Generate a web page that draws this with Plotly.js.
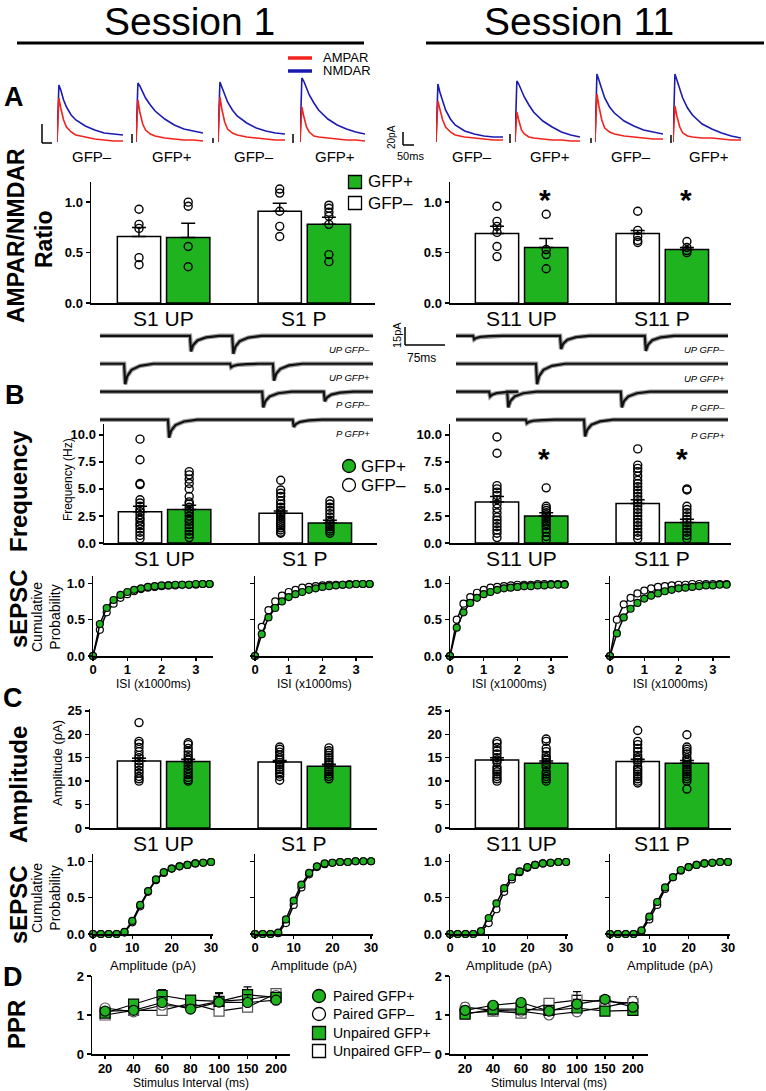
<!DOCTYPE html>
<html>
<head>
<meta charset="utf-8">
<script src="https://cdn.plot.ly/plotly-3.0.1.min.js"></script>
<style>body{margin:0;background:#fff}</style>
</head>
<body>
<div id="fig" style="width:766px;height:1091px"></div>
<script>
// ---------- data ----------

// Panel A: example evoked EPSCs (pA above baseline), sampled at traceT (ms)
const traceT = [0, 2, 4, 7, 10, 15, 20, 30, 40, 50, 60, 70];
const traceLabels = ['GFP\u2013', 'GFP+', 'GFP\u2013', 'GFP+'];
const nmdaS1 = [
  [0, 57, 52, 42, 35, 27, 22, 16, 12, 9, 8, 7],
  [0, 59, 56, 50, 44, 37, 31, 23, 17, 13, 11, 9],
  [0, 60, 55, 47, 40, 32, 26, 19, 14, 11, 9, 8],
  [0, 64, 61, 54, 47, 39, 32, 23, 17, 13, 10, 8]
];
const ampaS1 = [
  [0, 44, 34, 22, 15, 10, 7, 5, 3, 2, 1, 1],
  [0, 42, 30, 18, 12, 8, 6, 4, 3, 2, 2, 1],
  [0, 45, 33, 20, 13, 9, 7, 5, 4, 3, 2, 2],
  [0, 35, 26, 15, 10, 6, 5, 4, 3, 2, 2, 1]
];
const nmdaS11 = [
  [0, 58, 50, 40, 32, 23, 17, 11, 8, 6, 5, 5],
  [0, 61, 58, 52, 45, 37, 30, 21, 15, 10, 7, 5],
  [0, 68, 62, 52, 44, 35, 29, 21, 16, 12, 10, 8],
  [0, 68, 62, 52, 44, 34, 27, 18, 13, 9, 6, 4]
];
const ampaS11 = [
  [0, 41, 33, 22, 15, 10, 7, 5, 4, 3, 2, 2],
  [0, 30, 22, 12, 8, 5, 4, 3, 2, 2, 1, 1],
  [0, 48, 36, 22, 14, 10, 8, 6, 5, 4, 3, 3],
  [0, 36, 26, 15, 9, 6, 5, 4, 4, 3, 2, 2]
];

// AMPAR/NMDAR ratio (order: UP GFP-, UP GFP+, P GFP-, P GFP+)
const ratioS1Mean = [0.66, 0.65, 0.91, 0.78];
const ratioS1Sem = [0.09, 0.14, 0.08, 0.07];
const ratioS1Pts = [
  [0.93, 0.78, 0.74, 0.45, 0.38],
  [1.0, 0.96, 0.56, 0.36],
  [1.13, 1.09, 0.91, 0.76, 0.66],
  [0.97, 0.94, 0.9, 0.86, 0.78, 0.48, 0.41]
];
const ratioS11Mean = [0.69, 0.55, 0.69, 0.53];
const ratioS11Sem = [0.07, 0.09, 0.03, 0.02];
const ratioS11Pts = [
  [0.96, 0.81, 0.76, 0.7, 0.56, 0.46],
  [0.88, 0.53, 0.48, 0.34],
  [0.91, 0.72, 0.66, 0.62, 0.6],
  [0.61, 0.55, 0.52, 0.5]
];

// Panel B: spontaneous EPSC sweeps, events as [time ms, amplitude pA]
const sepscLabels = ['UP GFP\u2013', 'UP GFP+', 'P GFP\u2013', 'P GFP+'];
const sepscS1Events = [
  [[168, 13], [247, 15]],
  [[45, 17], [243, 3], [323, 14]],
  [[303, 13], [418, 8]],
  [[127, 15], [360, 6]]
];
const sepscS11Events = [
  [[32, 3], [195, 11], [354, 12.5]],
  [[150, 17]],
  [[62, 4], [96, 13], [309, 13]],
  [[131, 3], [240, 14]]
];
// event waveform read from the sweeps: time after onset (ms), fraction of peak
const eventT = [0, 2, 6, 14, 30, 55];
const eventF = [0, 1, 0.6, 0.3, 0.1, 0];

// Frequency (Hz)
const freqS1Mean = [2.9, 3.1, 2.75, 1.85];
const freqS1Sem = [0.5, 0.4, 0.2, 0.25];
const freqS1Pts = [
  [9.6, 7.7, 5.5, 5.4, 4.0, 3.7, 3.4, 3.1, 2.9, 2.6, 2.3, 2.1, 1.8, 1.6, 1.3, 1.0, 0.7, 0.4],
  [6.6, 6.3, 5.9, 5.5, 5.0, 4.3, 3.8, 3.6, 3.3, 3.0, 2.8, 2.5, 2.2, 2.0, 1.7, 1.4, 1.1, 0.8, 0.5],
  [5.8, 4.9, 4.6, 4.3, 3.9, 3.6, 3.3, 3.0, 2.8, 2.6, 2.4, 2.2, 2.0, 1.8, 1.6, 1.4, 1.2, 1.0, 0.9],
  [3.9, 3.6, 3.3, 3.0, 2.7, 2.4, 2.1, 1.9, 1.7, 1.5, 1.3, 1.1, 0.9]
];
const freqS11Mean = [3.8, 2.5, 3.65, 1.9];
const freqS11Sem = [0.5, 0.3, 0.35, 0.3];
const freqS11Pts = [
  [9.8, 8.3, 5.3, 5.0, 4.7, 4.4, 4.0, 3.6, 3.2, 2.8, 2.4, 2.1, 1.8, 1.5, 1.2, 0.9, 0.5],
  [5.1, 3.4, 3.2, 3.0, 2.8, 2.6, 2.4, 2.2, 2.0, 1.8, 1.6, 1.3, 1.0, 0.6, 0.3],
  [8.7, 7.2, 6.9, 6.6, 6.2, 5.8, 5.5, 5.2, 4.9, 4.6, 4.3, 4.0, 3.7, 3.4, 3.1, 2.8, 2.5, 2.2, 1.9, 1.6, 1.3, 1.0, 0.7, 0.4],
  [5.0, 4.9, 3.4, 3.1, 2.8, 2.5, 2.2, 1.9, 1.6, 1.3, 1.0, 0.7, 0.4]
];

// Cumulative ISI (x1000 ms)
const isiX = [0, 0.2, 0.4, 0.6, 0.8, 1.0, 1.2, 1.4, 1.6, 1.8, 2.0, 2.2, 2.4, 2.6, 2.8, 3.0, 3.2, 3.4];
const isiS1UpMinus = [0, 0.36, 0.6, 0.72, 0.8, 0.85, 0.89, 0.92, 0.94, 0.95, 0.96, 0.97, 0.97, 0.98, 0.98, 0.98, 0.99, 0.99];
const isiS1UpPlus = [0, 0.44, 0.66, 0.77, 0.84, 0.88, 0.91, 0.93, 0.95, 0.96, 0.97, 0.97, 0.98, 0.98, 0.98, 0.99, 0.99, 0.99];
const isiS1PMinus = [0, 0.4, 0.63, 0.75, 0.83, 0.88, 0.91, 0.94, 0.95, 0.96, 0.97, 0.98, 0.98, 0.98, 0.99, 0.99, 0.99, 0.99];
const isiS1PPlus = [0, 0.3, 0.53, 0.66, 0.75, 0.81, 0.85, 0.88, 0.91, 0.93, 0.95, 0.96, 0.97, 0.98, 0.98, 0.99, 0.99, 0.99];
const isiS11UpMinus = [0, 0.5, 0.72, 0.81, 0.87, 0.91, 0.94, 0.95, 0.96, 0.97, 0.98, 0.98, 0.98, 0.99, 0.99, 0.99, 0.99, 0.99];
const isiS11UpPlus = [0, 0.39, 0.6, 0.73, 0.8, 0.85, 0.88, 0.91, 0.93, 0.94, 0.95, 0.96, 0.96, 0.97, 0.97, 0.98, 0.98, 0.98];
const isiS11PMinus = [0, 0.5, 0.71, 0.8, 0.86, 0.9, 0.93, 0.95, 0.96, 0.97, 0.98, 0.98, 0.99, 0.99, 0.99, 0.99, 0.99, 0.99];
const isiS11PPlus = [0, 0.31, 0.53, 0.65, 0.73, 0.79, 0.83, 0.86, 0.89, 0.91, 0.93, 0.94, 0.95, 0.96, 0.97, 0.97, 0.98, 0.98];

// Amplitude (pA)
const ampS1Mean = [14.3, 14.2, 14.1, 13.2];
const ampS1Sem = [0.6, 0.5, 0.3, 0.4];
const ampS1Pts = [
  [22.5, 18.5, 18.0, 17.2, 16.3, 15.5, 15.0, 14.3, 13.6, 13.0, 12.3, 11.7, 11.0, 10.5, 10.0],
  [18.2, 17.8, 17.0, 16.3, 15.6, 15.0, 14.5, 14.0, 13.3, 12.6, 12.0, 11.4, 10.8, 10.3, 10.0],
  [17.3, 16.8, 16.2, 15.6, 15.0, 14.5, 14.0, 13.5, 13.0, 12.5, 12.0, 11.5, 11.0, 10.2],
  [17.1, 16.5, 16.0, 15.5, 15.0, 14.5, 14.0, 13.5, 13.0, 12.5, 12.0, 11.5, 11.0, 10.5]
];
const ampS11Mean = [14.5, 13.8, 14.2, 13.8];
const ampS11Sem = [0.5, 0.5, 0.5, 0.6];
const ampS11Pts = [
  [18.5, 18.0, 17.2, 16.5, 15.8, 15.0, 14.5, 14.0, 13.0, 12.5, 12.0, 11.5, 11.0, 10.5, 10.0],
  [19.0, 18.5, 17.0, 16.3, 15.5, 15.0, 14.5, 14.0, 13.5, 13.0, 12.0, 11.5, 11.0, 10.5, 10.0],
  [20.8, 18.5, 17.8, 17.0, 16.3, 15.5, 15.0, 14.5, 14.0, 13.0, 12.5, 12.0, 11.5, 11.0, 10.5, 10.0, 9.6],
  [19.9, 17.3, 16.8, 16.3, 15.8, 15.0, 14.5, 14.0, 13.5, 13.0, 12.5, 12.0, 11.5, 11.0, 10.5, 10.0, 8.3]
];

// Cumulative amplitude (pA)
const ampX = [0, 2, 4, 6, 8, 10, 12, 14, 16, 18, 20, 22, 24, 26, 28, 30];
const cAmpS1UpMinus = [0, 0, 0, 0, 0.02, 0.16, 0.38, 0.58, 0.74, 0.84, 0.9, 0.93, 0.95, 0.97, 0.98, 0.99];
const cAmpS1UpPlus = [0, 0, 0, 0, 0.03, 0.18, 0.4, 0.59, 0.75, 0.85, 0.9, 0.93, 0.95, 0.97, 0.98, 0.99];
const cAmpS1PMinus = [0, 0, 0, 0.01, 0.15, 0.4, 0.64, 0.82, 0.92, 0.96, 0.98, 0.99, 0.99, 1, 1, 1];
const cAmpS1PPlus = [0, 0, 0, 0.02, 0.2, 0.46, 0.68, 0.84, 0.93, 0.97, 0.98, 0.99, 0.99, 1, 1, 1];
const cAmpS11UpMinus = [0, 0, 0, 0, 0.03, 0.15, 0.34, 0.58, 0.75, 0.85, 0.91, 0.95, 0.97, 0.98, 0.99, 0.99];
const cAmpS11UpPlus = [0, 0, 0, 0, 0.04, 0.22, 0.42, 0.63, 0.78, 0.86, 0.92, 0.95, 0.97, 0.98, 0.99, 0.99];
const cAmpS11PMinus = [0, 0, 0, 0, 0.04, 0.2, 0.4, 0.62, 0.78, 0.87, 0.92, 0.95, 0.97, 0.98, 0.99, 0.99];
const cAmpS11PPlus = [0, 0, 0, 0, 0.05, 0.24, 0.44, 0.64, 0.78, 0.88, 0.92, 0.95, 0.97, 0.98, 0.99, 0.99];

// Panel D: paired-pulse ratio
const pprIntervals = ['20', '40', '60', '80', '100', '150', '200'];
const pprS1PairedPlus = [1.1, 1.12, 1.32, 1.15, 1.33, 1.32, 1.38];
const pprS1PairedMinus = [1.18, 1.08, 1.25, 1.2, 1.35, 1.4, 1.5];
const pprS1UnpairedPlus = [1.05, 1.28, 1.5, 1.38, 1.35, 1.52, 1.45];
const pprS1UnpairedMinus = [1.0, 1.12, 1.12, 1.3, 1.1, 1.2, 1.55];
const pprS1Sem = [0.05, 0.06, 0.15, 0.08, 0.22, 0.2, 0.07];
const pprS11PairedPlus = [1.12, 1.25, 1.32, 1.1, 1.28, 1.4, 1.2];
const pprS11PairedMinus = [1.2, 1.12, 1.1, 1.0, 1.08, 1.2, 1.35];
const pprS11UnpairedPlus = [1.02, 1.15, 1.15, 1.12, 1.18, 1.1, 1.12];
const pprS11UnpairedMinus = [1.05, 1.1, 1.05, 1.3, 1.38, 1.35, 1.3];
const pprS11Sem = [0.1, 0.05, 0.08, 0.05, 0.22, 0.1, 0.12];

// ---------- drawing ----------
const W = 766, H = 1091;
const FONT = 'Liberation Sans, Arial, sans-serif';
const GREEN = '#1fb31f', RED = '#f2231d', BLUE = '#1b1bb0';

const layout = {
  width: W, height: H, margin: {l: 0, r: 0, t: 0, b: 0},
  paper_bgcolor: '#fff', plot_bgcolor: 'rgba(0,0,0,0)',
  showlegend: false, font: {family: FONT, color: '#000'},
  shapes: [], annotations: []
};
const data = [];

let nAx = 0;
function newAxes(x0, x1, yTop, yBot, xo, yo) {
  nAx++;
  const id = nAx === 1 ? '' : String(nAx);
  layout['xaxis' + id] = Object.assign({domain: [x0 / W, x1 / W], anchor: 'y' + id}, xo);
  layout['yaxis' + id] = Object.assign({domain: [1 - yBot / H, 1 - yTop / H], anchor: 'x' + id}, yo);
  return {xaxis: 'x' + id, yaxis: 'y' + id};
}

function axStyle(o) {
  return Object.assign({
    showgrid: false, zeroline: false, showline: true, linecolor: '#000', linewidth: 1.5,
    ticks: 'outside', ticklen: 4, tickwidth: 1.5, tickcolor: '#000',
    tickfont: {family: FONT, size: 13, color: '#000', weight: 'bold'}, fixedrange: true
  }, o);
}
const hidden = r => ({visible: false, range: r, fixedrange: true});

function txt(x, y, text, size, o) {
  o = o || {};
  layout.annotations.push({
    xref: 'paper', yref: 'paper', x: x / W, y: 1 - y / H, text: text, showarrow: false,
    xanchor: o.xanchor || 'center', yanchor: 'middle', textangle: o.angle || 0,
    font: {family: FONT, size: size, color: '#000', weight: o.bold ? 'bold' : 'normal', style: o.italic ? 'italic' : 'normal'}
  });
}
function seg(x0, y0, x1, y1, color, width) {
  layout.shapes.push({type: 'line', xref: 'paper', yref: 'paper',
    x0: x0 / W, y0: 1 - y0 / H, x1: x1 / W, y1: 1 - y1 / H, line: {color: color, width: width}});
}
function box(type, cx, cy, r, fill) {
  layout.shapes.push({type: type, xref: 'paper', yref: 'paper',
    x0: (cx - r) / W, x1: (cx + r) / W, y0: 1 - (cy + r) / H, y1: 1 - (cy - r) / H,
    fillcolor: fill, line: {color: '#000', width: 1.3}});
}

// Panel A traces
function epscTraces(domains, nmda, ampa) {
  domains.forEach((d, i) => {
    const ax = newAxes(d[0], d[1], 72, 145, hidden([0, 70]), hidden([-3, 70]));
    data.push(Object.assign({type: 'scatter', mode: 'lines', x: traceT, y: nmda[i], line: {color: BLUE, width: 1.6}}, ax));
    data.push(Object.assign({type: 'scatter', mode: 'lines', x: traceT, y: ampa[i], line: {color: RED, width: 1.6}}, ax));
    txt((d[0] + d[1]) / 2 + 2, 157, traceLabels[i], 15);
  });
}
epscTraces([[57, 123], [136, 203], [218, 285], [300, 365]], nmdaS1, ampaS1);
epscTraces([[436, 503], [515, 580], [595, 663], [673, 741]], nmdaS11, ampaS11);

// bar panels; bar centres sit at fixed pixel columns, the axis start may vary
const BAR_POS = [0, 1, 2.86, 3.86];
const GROUP_POS = [0.5, 3.36];
const BAR_FILL = ['#fff', GREEN, '#fff', GREEN];
const PX_PER_UNIT = 49.2;
function barPanel(x0, x1, firstBarPx, yTop, yBot, yRange, yTicks, fmt, means, sems, pts, groups) {
  const xr = [-(firstBarPx - x0) / PX_PER_UNIT, (x1 - firstBarPx) / PX_PER_UNIT];
  const ax = newAxes(x0, x1, yTop, yBot,
    axStyle({range: xr, ticks: '', showticklabels: false}),
    axStyle({range: yRange, tickvals: yTicks, tickformat: fmt}));
  data.push(Object.assign({
    type: 'bar', x: BAR_POS, y: means, width: 0.88,
    marker: {color: BAR_FILL, line: {color: '#000', width: 1.5}},
    error_y: {type: 'data', symmetric: false, array: sems, arrayminus: sems.map(() => 0),
      color: '#000', thickness: 1.5, width: 7}
  }, ax));
  data.push(Object.assign({
    type: 'scatter', mode: 'markers', cliponaxis: false,
    x: pts.flatMap((p, i) => p.map(() => BAR_POS[i])), y: pts.flat(),
    marker: {symbol: 'circle-open', size: 8, color: '#000', line: {width: 1.4}}
  }, ax));
  // group names under the axis
  groups.forEach((g, i) => txt(firstBarPx + GROUP_POS[i] * PX_PER_UNIT, yBot + 15, g, 21));
}
barPanel(91, 375, 139, 182, 303, [0, 1.2], [0, 0.5, 1], '.1f', ratioS1Mean, ratioS1Sem, ratioS1Pts, ['S1 UP', 'S1 P']);
barPanel(450, 731, 497, 182, 303, [0, 1.2], [0, 0.5, 1], '.1f', ratioS11Mean, ratioS11Sem, ratioS11Pts, ['S11 UP', 'S11 P']);

// Panel B sweeps
const ROW_GAP = 23.3;
function sweeps(x0, x1, events) {
  const ax = newAxes(x0, x1, 325, 445, hidden([0, 510]), hidden([-100, 0]));
  events.forEach((ev, k) => {
    const base = -9 - ROW_GAP * k;
    const xs = [0], ys = [base];
    ev.forEach(([t, a]) => {
      eventT.forEach((dt, j) => { xs.push(t + dt); ys.push(base - a * eventF[j]); });
    });
    xs.push(510); ys.push(base);
    data.push(Object.assign({type: 'scatter', mode: 'lines', x: xs, y: ys, line: {color: '#9c9c9c', width: 4.5}}, ax));
    data.push(Object.assign({type: 'scatter', mode: 'lines', x: xs, y: ys, line: {color: '#111', width: 2.2}}, ax));
  });
}
sweeps(100, 373, sepscS1Events);
sweeps(456, 728, sepscS11Events);
sepscLabels.forEach((l, k) => {
  txt(372, 349 + 28 * k, l, 9.5, {xanchor: 'right', italic: true});
  txt(727, 350 + 28.5 * k, l, 9.5, {xanchor: 'right', italic: true});
});

barPanel(104, 377, 140, 424, 543, [0, 11], [0, 2.5, 5, 7.5, 10], '.1f', freqS1Mean, freqS1Sem, freqS1Pts, ['S1 UP', 'S1 P']);
barPanel(450, 731, 497, 424, 543, [0, 11], [0, 2.5, 5, 7.5, 10], '.1f', freqS11Mean, freqS11Sem, freqS11Pts, ['S11 UP', 'S11 P']);

// cumulative panels
function cumPanel(x0, x1, yTop, yBot, xRange, xTicks, xs, minus, plus, showY) {
  const ax = newAxes(x0, x1, yTop, yBot,
    axStyle({range: xRange, tickvals: xTicks, ticklen: 3, ticklabelstandoff: -2}),
    axStyle({range: [0, 1.1], tickvals: [0, 0.5, 1], tickformat: '.1f', showticklabels: showY}));
  const ln = {color: '#000', width: 1.5};
  data.push(Object.assign({type: 'scatter', mode: 'lines+markers', x: xs, y: minus, line: ln, cliponaxis: false,
    marker: {size: 7, color: '#fff', line: {color: '#000', width: 1.2}}}, ax));
  data.push(Object.assign({type: 'scatter', mode: 'lines+markers', x: xs, y: plus, line: ln, cliponaxis: false,
    marker: {size: 7, color: GREEN, line: {color: '#000', width: 1.2}}}, ax));
}
const isiR = [0, 3.5], isiT = [0, 1, 2, 3];
cumPanel(93, 213, 576, 656, isiR, isiT, isiX, isiS1UpMinus, isiS1UpPlus, true);
cumPanel(255, 373, 576, 656, isiR, isiT, isiX, isiS1PMinus, isiS1PPlus, false);
cumPanel(450, 568, 576, 656, isiR, isiT, isiX, isiS11UpMinus, isiS11UpPlus, true);
cumPanel(610, 730, 576, 656, isiR, isiT, isiX, isiS11PMinus, isiS11PPlus, false);

barPanel(90, 377, 139, 709, 828, [0, 25.4], [0, 5, 10, 15, 20, 25], '', ampS1Mean, ampS1Sem, ampS1Pts, ['S1 UP', 'S1 P']);
barPanel(450, 731, 497, 709, 828, [0, 25.4], [0, 5, 10, 15, 20, 25], '', ampS11Mean, ampS11Sem, ampS11Pts, ['S11 UP', 'S11 P']);

const ampR = [0, 30.5], ampT = [0, 10, 20, 30];
cumPanel(93, 213, 854, 934, ampR, ampT, ampX, cAmpS1UpMinus, cAmpS1UpPlus, true);
cumPanel(255, 373, 854, 934, ampR, ampT, ampX, cAmpS1PMinus, cAmpS1PPlus, false);
cumPanel(450, 568, 854, 934, ampR, ampT, ampX, cAmpS11UpMinus, cAmpS11UpPlus, true);
cumPanel(610, 730, 854, 934, ampR, ampT, ampX, cAmpS11PMinus, cAmpS11PPlus, false);

// Panel D
function pprPanel(x0, x1, xRange, series, sem) {
  const ax = newAxes(x0, x1, 976, 1054,
    axStyle({type: 'category', range: xRange, ticklen: 3, ticklabelstandoff: -1}),
    axStyle({range: [0, 2], tickvals: [0, 1, 2]}));
  const styles = [
    {symbol: 'square', fill: '#fff'}, {symbol: 'circle', fill: '#fff'},
    {symbol: 'square', fill: GREEN}, {symbol: 'circle', fill: GREEN}
  ];
  series.forEach((ys, i) => {
    data.push(Object.assign({
      type: 'scatter', mode: 'lines+markers', x: pprIntervals, y: ys, cliponaxis: false,
      line: {color: '#000', width: 1.2},
      marker: {symbol: styles[i].symbol, size: 10, color: styles[i].fill, line: {color: i < 2 ? '#555' : '#000', width: 1.2}},
      error_y: {type: 'data', array: sem, arrayminus: sem.map(() => 0), symmetric: false, color: '#000', thickness: 1.2, width: 4}
    }, ax));
  });
}
pprPanel(92, 290, [-0.46, 6.49], [pprS1UnpairedMinus, pprS1PairedMinus, pprS1UnpairedPlus, pprS1PairedPlus], pprS1Sem);
pprPanel(450, 648, [-0.54, 6.54], [pprS11UnpairedMinus, pprS11PairedMinus, pprS11UnpairedPlus, pprS11PairedPlus], pprS11Sem);

// ---------- titles, labels, legends ----------
txt(189, 21, 'Session 1', 39);
txt(579, 21, 'Session 11', 39);
seg(17, 43, 364, 43, '#000', 3);
seg(426, 43, 764, 43, '#000', 3);

seg(288, 58, 312, 58, RED, 3.5);
seg(288, 71, 312, 71, BLUE, 3.5);
txt(321, 58, 'AMPAR', 13, {xanchor: 'left'});
txt(321, 71, 'NMDAR', 13, {xanchor: 'left'});

// scale bars
seg(42, 124, 42, 143, '#000', 1.5); seg(42, 143, 52, 143, '#000', 1.5);
seg(132, 134, 132, 143, '#000', 1.5); seg(213, 138, 213, 143, '#000', 1.5); seg(293, 134, 293, 143, '#000', 1.5);
seg(403, 132, 403, 145, '#000', 1.5); seg(403, 145, 414, 145, '#000', 1.5);
seg(510, 134, 510, 143, '#000', 1.5); seg(591, 138, 591, 143, '#000', 1.5); seg(671, 135, 671, 143, '#000', 1.5);
txt(392, 137, '20pA', 10, {angle: -90});
txt(411, 156, '50ms', 11);
seg(405, 327, 405, 345, '#000', 1.5); seg(405, 345, 445, 345, '#000', 1.5);
txt(397, 335, '15pA', 11, {angle: -90});
txt(421, 358, '75ms', 12);

// panel letters and row titles
txt(14, 97, 'A', 27, {bold: true});
txt(15, 395, 'B', 27, {bold: true});
txt(13, 698, 'C', 27, {bold: true});
txt(13, 977, 'D', 27, {bold: true});
txt(16, 236, 'AMPAR/NMDAR', 23, {bold: true, angle: -90});
txt(44, 239, 'Ratio', 23, {bold: true, angle: -90});
txt(18, 491, 'Frequency', 24, {bold: true, angle: -90});
txt(18, 609, 'sEPSC', 24, {bold: true, angle: -90});
txt(18, 785, 'Amplitude', 24, {bold: true, angle: -90});
txt(18, 905, 'sEPSC', 24, {bold: true, angle: -90});
txt(16, 1025, 'PPR', 24, {bold: true, angle: -90});

txt(68, 480, 'Frequency (Hz)', 12, {angle: -90});
txt(57, 763, 'Amplitude (pA)', 13, {angle: -90});
txt(46, 617, 'Cumulative<br>Probability', 14, {angle: -90});
txt(46, 898, 'Cumulative<br>Probability', 14, {angle: -90});
[153, 314, 509, 670].forEach(cx => {
  txt(cx, 684, 'ISI (x1000ms)', 12);
  txt(cx, 965, 'Amplitude (pA)', 13);
});
txt(191, 1083, 'Stimulus Interval (ms)', 12);
txt(549, 1083, 'Stimulus Interval (ms)', 12);

// significance stars
txt(545, 199, '*', 30, {bold: true});
txt(686, 199, '*', 30, {bold: true});
txt(544, 459, '*', 30, {bold: true});
txt(682, 459, '*', 30, {bold: true});

// legends
box('rect', 355, 182, 6.5, GREEN);
box('rect', 355, 203, 6.5, '#fff');
txt(366, 182, 'GFP+', 17, {xanchor: 'left'});
txt(366, 203, 'GFP\u2013', 17, {xanchor: 'left'});
box('circle', 349, 466, 6.5, GREEN);
box('circle', 349, 485, 6.5, '#fff');
txt(359, 466, 'GFP+', 17, {xanchor: 'left'});
txt(359, 485, 'GFP\u2013', 17, {xanchor: 'left'});
box('circle', 319, 996, 6.5, GREEN);
box('circle', 319, 1014, 6.5, '#fff');
box('rect', 319, 1033, 6.5, GREEN);
box('rect', 319, 1051, 6.5, '#fff');
txt(331, 996, 'Paired GFP+', 14, {xanchor: 'left'});
txt(331, 1014, 'Paired GFP\u2013', 14, {xanchor: 'left'});
txt(331, 1033, 'Unpaired GFP+', 14, {xanchor: 'left'});
txt(331, 1051, 'Unpaired GFP\u2013', 14, {xanchor: 'left'});

Plotly.newPlot('fig', data, layout, {staticPlot: true});
</script>
</body>
</html>
